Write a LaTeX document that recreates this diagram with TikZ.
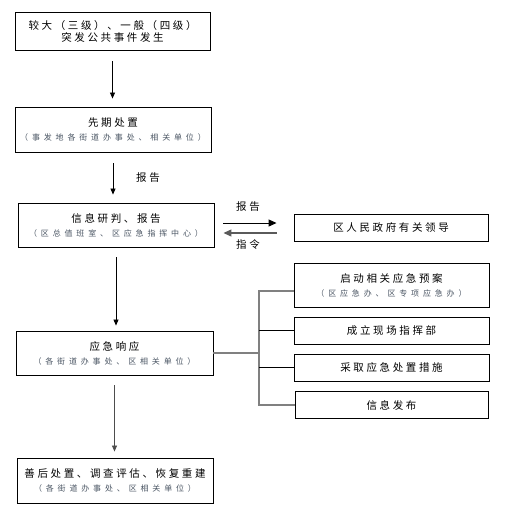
\documentclass[tikz,border=0pt]{standalone}
\usepackage{fontspec}
\usepackage{tikz}
\usetikzlibrary{arrows.meta,calc}
\setmainfont{Noto Sans CJK SC}
\newfontfamily\zhbuyuk[LetterSpace=25]{Noto Sans CJK SC}
\newfontfamily\zhkucuk[LetterSpace=48]{Noto Sans CJK SC}
\definecolor{xianHui}{HTML}{808080}
\definecolor{fuZi}{HTML}{4A5563}
\newcommand{\zt}[1]{{\zhbuyuk\fontsize{10.5}{14}\selectfont #1}}
\newcommand{\fz}[1]{{\zhkucuk\color{fuZi}\fontsize{8}{10}\selectfont #1}}

\begin{document}
\begin{tikzpicture}[x=1pt,y=-1pt,
  kuang/.style={draw,line width=0.9pt,inner sep=0pt,minimum width=195pt,align=center},
  jt/.style={-{Triangle[length=6pt,width=5pt]},line width=0.8pt,shorten <=11pt,shorten >=8pt}]
\useasboundingbox (0,0) rectangle (505,517);
\node[kuang,minimum height=38pt] (shijian) at (112.5,31) {\zt{较大（三级）、一般（四级）}\\\zt{突发公共事件发生}};
\node[kuang,minimum height=45pt,minimum width=196pt] (xianqi) at (113,129.5) {\zt{先期处置}\\[2pt]\fz{（事发地各街道办事处、相关单位）}};
\node[kuang,minimum height=44pt,minimum width=196pt] (yanpan) at (116,225) {\zt{信息研判、报告}\\[2pt]\fz{（区总值班室、区应急指挥中心）}};
\node[kuang,minimum height=27pt,minimum width=194pt] (lingdao) at (391,227.5) {\zt{区人民政府有关领导}};
\node[kuang,minimum height=44pt,minimum width=197pt] (xiangying) at (114.5,353) {\zt{应急响应}\\[2pt]\fz{（各街道办事处、区相关单位）}};
\node[kuang,minimum height=44pt] (yuan) at (391.5,285) {\zt{启动相关应急预案}\\[2pt]\fz{（区应急办、区专项应急办）}};
\node[kuang,minimum height=27pt] (zhihui) at (391.5,330.5) {\zt{成立现场指挥部}};
\node[kuang,minimum height=27pt] (cuoshi) at (391.5,367.5) {\zt{采取应急处置措施}};
\node[kuang,minimum height=27pt,minimum width=193pt] (fabu) at (391.5,405) {\zt{信息发布}};
\node[kuang,minimum height=45pt,minimum width=196pt] (shanhou) at (115,480.5) {\zt{善后处置、调查评估、恢复重建}\\[2pt]\fz{（各街道办事处、区相关单位）}};
\node (baogao) at (148,178) {\zt{报告}};
\node (baogaob) at (248,207) {\zt{报告}};
\node (zhiling) at (248,245) {\zt{指令}};
\coordinate (zhe) at (259,0);
\draw[jt] (shijian.south) -- (shijian.south |- xianqi.north);
\draw[jt] (xianqi.south) -- (xianqi.south |- yanpan.north);
\draw[jt,shorten <=10pt,shorten >=5pt] (yanpan.south) -- (yanpan.south |- xiangying.north);
\draw[jt,xianHui!60!black,shorten <=10pt,shorten >=6pt] (xiangying.south) -- (xiangying.south |- shanhou.north);
\draw[-{Triangle[length=8pt,width=7pt]},line width=1pt,shorten <=9pt,shorten >=17pt] ([yshift=2pt]yanpan.east) -- ([yshift=2pt]yanpan.east -| lingdao.west);
\draw[-{Triangle[length=8pt,width=7pt]},line width=1.2pt,xianHui!70!black,shorten <=17pt,shorten >=9pt] ([yshift=-8pt]yanpan.east -| lingdao.west) -- ([yshift=-8pt]yanpan.east);
\draw[xianHui,line width=1.3pt] (xiangying.east) -- (xiangying.east -| zhe);
\draw[xianHui,line width=1.3pt] ([yshift=-6pt]yuan.west) -| (zhe |- fabu.west) -- (fabu.west);
\draw[line width=0.8pt] (zhihui.west) -- (zhihui.west -| zhe);
\draw[line width=0.8pt] (cuoshi.west) -- (cuoshi.west -| zhe);
\end{tikzpicture}
\end{document}
